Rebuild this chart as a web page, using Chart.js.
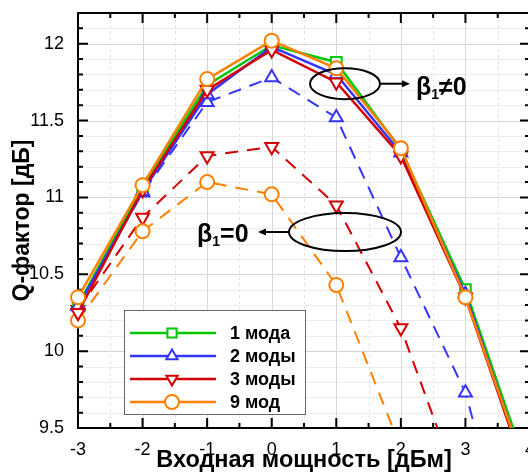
<!DOCTYPE html>
<html>
<head>
<meta charset="utf-8">
<script src="https://cdn.jsdelivr.net/npm/chart.js@4"></script>
<style>
html, body { margin: 0; padding: 0; overflow: hidden; background: #fff; }
#wrap { width: 528px; height: 474px; overflow: hidden; }
</style>
</head>
<body>
<div id="wrap"><canvas id="myChart" width="532" height="474"></canvas></div>
<script>
// input power, dBm
const inputPower = [-3, -2, -1, 0, 1, 2, 3, 4];
// beta1 != 0 (solid lines)
const mode1 = [10.30, 11.07, 11.73, 11.99, 11.88, 11.31, 10.40, 9.18];
const mode2 = [10.29, 11.04, 11.67, 11.98, 11.80, 11.29, 10.37, 9.14];
const mode3 = [10.25, 11.05, 11.70, 11.96, 11.75, 11.27, 10.35, 9.12];
const mode9 = [10.35, 11.08, 11.77, 12.02, 11.84, 11.32, 10.35, 9.15];
// beta1 = 0 (dashed lines)
const mode2b0 = [10.30, 11.03, 11.62, 11.78, 11.52, 10.61, 9.73, 8.20];
const mode3b0 = [10.27, 10.87, 11.27, 11.33, 10.95, 10.15, 9.00, 8.00];
const mode9b0 = [10.20, 10.78, 11.10, 11.02, 10.43, 9.37, 8.50, 7.60];

const seriesNames = ['1 мода', '2 моды', '3 моды', '9 мод'];
const xTicks = [-3, -2, -1, 0, 1, 2, 3, 4];
const yTicks = [9.5, 10, 10.5, 11, 11.5, 12];

const FONT = "'Liberation Sans', Arial, sans-serif";
const GREEN = '#00c800', BLUE = '#3535ff', RED = '#d20000', ORANGE = '#ff8000';

function pts(arr) {
    return arr.map((v, i) => ({ x: inputPower[i], y: v }));
}

function series(label, data, color, style, dashed, order) {
    return {
        label: label,
        data: pts(data),
        borderColor: color,
        borderWidth: dashed ? 2 : 2.5,
        borderDash: dashed ? [13, 9] : [],
        pointStyle: style === 'down' ? 'triangle' : style,
        rotation: style === 'down' ? 180 : 0,
        pointRadius: style === 'circle' ? 7 : 7.5,
        pointBackgroundColor: '#fff',
        pointBorderColor: color,
        pointBorderWidth: 2,
        fill: false,
        tension: 0,
        dashed: dashed,
        markerStyle: style,
        order: order,
        clip: { left: 12, top: 12, right: 12, bottom: 0 }
    };
}

function drawMarker(ctx, style, x, y, r, color) {
    ctx.save();
    ctx.beginPath();
    ctx.fillStyle = '#fff';
    ctx.strokeStyle = color;
    ctx.lineWidth = 2;
    if (style === 'circle') {
        ctx.arc(x, y, r, 0, Math.PI * 2);
    } else if (style === 'rect') {
        const s = r * Math.SQRT1_2;
        ctx.rect(x - s, y - s, 2 * s, 2 * s);
    } else {
        const d = style === 'down' ? -1 : 1;
        ctx.moveTo(x, y - d * r);
        ctx.lineTo(x + r * 0.866, y + d * r / 2);
        ctx.lineTo(x - r * 0.866, y + d * r / 2);
        ctx.closePath();
    }
    ctx.fill();
    ctx.stroke();
    ctx.restore();
}

// grid, frame, inward ticks
const framePlugin = {
    id: 'frame',
    beforeDatasetsDraw(chart) {
        const { ctx, chartArea: a, scales: { x, y } } = chart;
        ctx.save();
        // horizontal grid every 0.1
        for (let i = 0; ; i++) {
            const v = y.min + i * 0.1;
            if (v > y.max + 1e-6) break;
            const py = Math.round(y.getPixelForValue(v)) + 0.5;
            const major = Math.abs(v * 2 - Math.round(v * 2)) < 1e-6;
            ctx.strokeStyle = major ? '#d4d4d4' : '#ececec';
            ctx.lineWidth = 1;
            ctx.setLineDash([]);
            ctx.beginPath(); ctx.moveTo(a.left, py); ctx.lineTo(a.right, py); ctx.stroke();
        }
        // vertical grid every 0.5
        for (let i = 0; ; i++) {
            const v = x.min + i * 0.5;
            if (v > x.max + 1e-6) break;
            const px = Math.round(x.getPixelForValue(v)) + 0.5;
            const major = Math.abs(v - Math.round(v)) < 1e-6;
            ctx.strokeStyle = major ? '#d8d8d8' : '#e2e2e2';
            ctx.setLineDash(major ? [] : [3, 3]);
            ctx.beginPath(); ctx.moveTo(px, a.top); ctx.lineTo(px, a.bottom); ctx.stroke();
        }
        ctx.setLineDash([]);
        // frame
        ctx.strokeStyle = '#000';
        ctx.lineWidth = 2;
        ctx.strokeRect(a.left, a.top, a.right - a.left, a.bottom - a.top);
        // ticks
        for (let i = 0; ; i++) {
            const v = y.min + i * 0.1;
            if (v > y.max + 1e-6) break;
            const py = y.getPixelForValue(v);
            const major = Math.abs(v * 2 - Math.round(v * 2)) < 1e-6;
            const len = major ? 10 : 5;
            ctx.beginPath();
            ctx.moveTo(a.left, py); ctx.lineTo(a.left + len, py);
            ctx.moveTo(a.right, py); ctx.lineTo(a.right - len, py);
            ctx.stroke();
        }
        for (let i = 0; ; i++) {
            const v = x.min + i * 0.5;
            if (v > x.max + 1e-6) break;
            const px = x.getPixelForValue(v);
            const major = Math.abs(v - Math.round(v)) < 1e-6;
            const len = major ? 10 : 5;
            ctx.beginPath();
            ctx.moveTo(px, a.bottom); ctx.lineTo(px, a.bottom - len);
            ctx.moveTo(px, a.top); ctx.lineTo(px, a.top + len);
            ctx.stroke();
        }
        ctx.restore();
    }
};

function betaLabel(ctx, x, baseline, rel) {
    ctx.save();
    ctx.fillStyle = '#000';
    ctx.textAlign = 'left';
    ctx.textBaseline = 'alphabetic';
    ctx.font = 'bold 25px ' + FONT;
    ctx.fillText('β', x, baseline);
    let w = ctx.measureText('β').width;
    ctx.font = 'bold 14px ' + FONT;
    ctx.fillText('1', x + w, baseline + 4);
    w += ctx.measureText('1').width;
    ctx.font = 'bold 25px ' + FONT;
    ctx.fillText(rel + '0', x + w, baseline);
    ctx.restore();
}

function arrow(ctx, x1, y1, x2, y2) {
    const dir = Math.sign(x2 - x1);
    ctx.beginPath();
    ctx.moveTo(x1, y1); ctx.lineTo(x2 - dir * 6, y2);
    ctx.stroke();
    ctx.beginPath();
    ctx.moveTo(x2, y2);
    ctx.lineTo(x2 - dir * 8, y2 - 3.5);
    ctx.lineTo(x2 - dir * 8, y2 + 3.5);
    ctx.closePath();
    ctx.fill();
}

// legend box and the two annotations
const notesPlugin = {
    id: 'notes',
    afterDatasetsDraw(chart) {
        const { ctx, chartArea: a, scales: { x, y } } = chart;
        ctx.save();
        ctx.strokeStyle = '#000';
        ctx.fillStyle = '#000';
        ctx.lineWidth = 2;

        // beta1 != 0
        let cx = x.getPixelForValue(1.135), cy = y.getPixelForValue(11.74);
        ctx.beginPath(); ctx.ellipse(cx, cy, 35, 15.5, 0, 0, Math.PI * 2); ctx.stroke();
        arrow(ctx, cx + 35, cy, cx + 65, cy);
        betaLabel(ctx, cx + 71, cy + 11, '≠');

        // beta1 = 0
        cx = x.getPixelForValue(1.135); cy = y.getPixelForValue(10.775);
        ctx.beginPath(); ctx.ellipse(cx, cy, 56, 19, 0, 0, Math.PI * 2); ctx.stroke();
        arrow(ctx, cx - 56, cy, cx - 87, cy);
        betaLabel(ctx, cx - 148, cy + 10, '=');

        // legend
        const lx = a.left + 46, ly = a.top + 297, lw = 181, lh = 104;
        ctx.fillStyle = '#fff';
        ctx.fillRect(lx, ly, lw, lh);
        ctx.strokeStyle = '#666';
        ctx.lineWidth = 1;
        ctx.strokeRect(lx + 0.5, ly + 0.5, lw, lh);
        const items = chart.data.datasets.filter(d => !d.dashed);
        items.forEach((d, i) => {
            const ry = ly + 23 + i * 23;
            ctx.strokeStyle = d.borderColor;
            ctx.lineWidth = 2.5;
            ctx.beginPath(); ctx.moveTo(lx + 6, ry); ctx.lineTo(lx + 92, ry); ctx.stroke();
            const r = d.markerStyle === 'circle' ? 7 : 6.5;
            drawMarker(ctx, d.markerStyle, lx + 48, ry, r, d.borderColor);
            ctx.fillStyle = '#000';
            ctx.font = 'bold 18px ' + FONT;
            ctx.textBaseline = 'middle';
            ctx.textAlign = 'left';
            ctx.fillText(d.label, lx + 106, ry + 1);
        });
        ctx.restore();
    }
};

const ctx = document.getElementById('myChart').getContext('2d');

var qChart = new Chart(ctx, {
    type: 'line',
    data: {
        datasets: [
            series(seriesNames[0], mode1, GREEN, 'rect', false, 4),
            series(seriesNames[1], mode2, BLUE, 'triangle', false, 3),
            series(seriesNames[2], mode3, RED, 'down', false, 2),
            series(seriesNames[3], mode9, ORANGE, 'circle', false, 1),
            series(seriesNames[1], mode2b0, BLUE, 'triangle', true, 7),
            series(seriesNames[2], mode3b0, RED, 'down', true, 6),
            series(seriesNames[3], mode9b0, ORANGE, 'circle', true, 5)
        ]
    },
    options: {
        responsive: false,
        animation: false,
        layout: { autoPadding: false, padding: { top: 13, right: 2, left: 0, bottom: 0 } },
        plugins: { legend: { display: false }, tooltip: { enabled: false } },
        scales: {
            x: {
                type: 'linear',
                min: -3,
                max: 4,
                afterBuildTicks: s => { s.ticks = xTicks.map(v => ({ value: v })); },
                afterFit: s => { s.height = 46; s.paddingLeft = 0; s.paddingRight = 0; },
                grid: { display: false },
                border: { display: false },
                ticks: {
                    color: '#000',
                    font: { family: FONT, size: 18 },
                    padding: 3,
                    maxRotation: 0,
                    autoSkip: false,
                    callback: v => String(v)
                },
                title: {
                    display: true,
                    text: 'Входная мощность [дБм]',
                    color: '#000',
                    font: { family: FONT, size: 23.5, weight: 'bold', lineHeight: 1 },
                    padding: { top: 0, bottom: 1.5 }
                }
            },
            y: {
                min: 9.5,
                max: 12.2,
                afterBuildTicks: s => { s.ticks = yTicks.map(v => ({ value: v })); },
                afterFit: s => { s.width = 78; s.paddingTop = 0; s.paddingBottom = 0; },
                grid: { display: false },
                border: { display: false },
                ticks: {
                    color: '#000',
                    font: { family: FONT, size: 18 },
                    padding: 6,
                    autoSkip: false,
                    callback: v => String(v)
                },
                title: {
                    display: true,
                    text: 'Q-фактор [дБ]',
                    color: '#000',
                    font: { family: FONT, size: 23, weight: 'bold' },
                    padding: { top: 9, bottom: 0 }
                }
            }
        }
    },
    plugins: [framePlugin, notesPlugin]
});
</script>
</body>
</html>
